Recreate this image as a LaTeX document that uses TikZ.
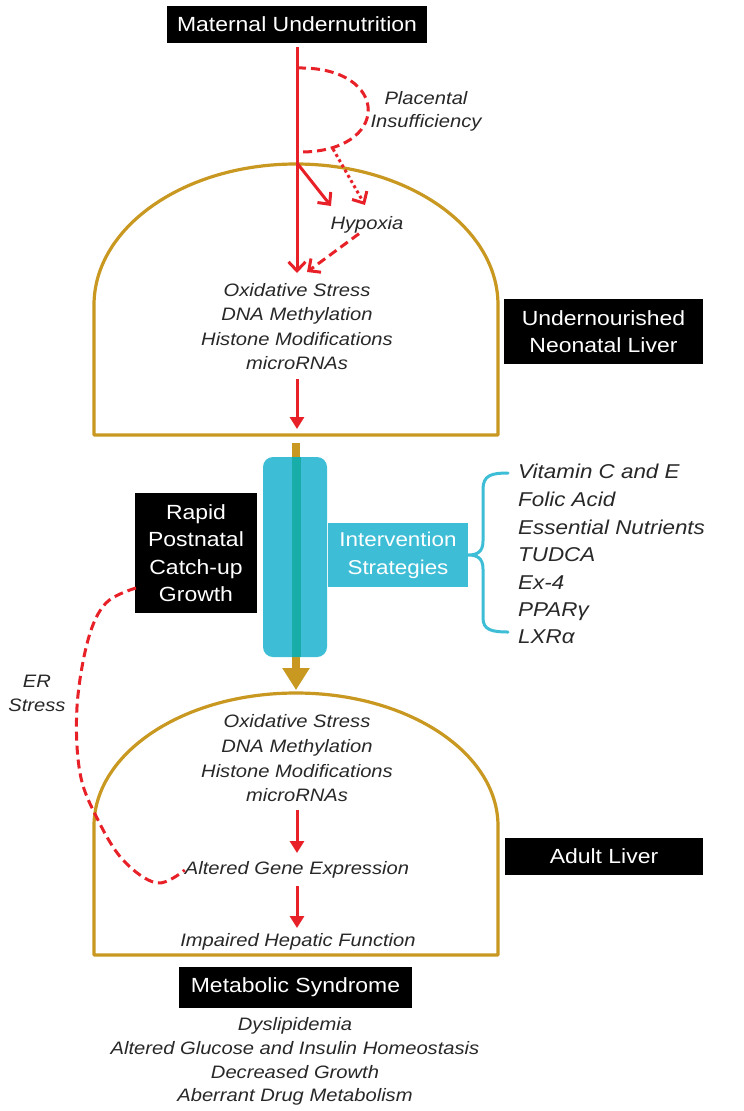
\documentclass[tikz,border=0pt]{standalone}
\usepackage{fontspec}
\setmainfont{Liberation Sans}[FakeStretch=1.12]
\usetikzlibrary{arrows.meta}
\definecolor{myred}{RGB}{232,32,40}
\definecolor{gold}{RGB}{201,152,32}
\definecolor{cyanbox}{RGB}{62,190,214}
\definecolor{tealstripe}{RGB}{24,173,168}
\definecolor{txtgray}{RGB}{40,40,40}
\tikzset{
  blackbox/.style={fill=black, text=white, inner sep=0pt, align=center,
    font=\fontsize{20.5}{27.5}\selectfont},
  ittxt/.style={text=txtgray, inner sep=0pt, align=center,
    font=\itshape\fontsize{18}{23.5}\selectfont},
  itline/.style={ittxt, text height=13pt, text depth=4pt},
  listtxt/.style={text=txtgray, inner sep=0pt, anchor=west,
    font=\itshape\fontsize{20}{27}\selectfont, text height=14.5pt, text depth=4.5pt},
  barbtip/.style={-{Straight Barb[length=9pt,width=17pt,line width=3pt]}},
  redbarb/.style={draw=myred, line width=3pt, barbtip},
  redtri/.style={draw=myred, line width=3pt, -{Triangle[length=12pt,width=14pt]}},
  reddash/.style={draw=myred, line width=3pt, dash pattern=on 9pt off 5pt},
  reddot/.style={draw=myred, line width=3pt, dash pattern=on 3pt off 3pt},
  dome/.style={draw=gold, line width=3.2pt, line join=round},
}
\begin{document}
\begin{tikzpicture}[x=1pt,y=-1pt]
\useasboundingbox[fill=white] (0,0) rectangle (744,1111);

% ---------- domes ----------
\draw[dome] (94,435) -- (94,305) .. controls (94,227.1) and (184.4,164) .. (296,164)
  .. controls (407.6,164) and (498,227.1) .. (498,305) -- (498,435) -- cycle;
\draw[dome] (94,955) -- (94,826) .. controls (94,752.5) and (184.4,693) .. (296,693)
  .. controls (407.6,693) and (498,752.5) .. (498,826) -- (498,955) -- cycle;

% ---------- black boxes ----------
\node[blackbox, minimum width=260pt, minimum height=37pt] (maternal) at (297,24.5) {Maternal Undernutrition};
\node[blackbox, minimum width=199pt, minimum height=65pt] (neonatal) at (603.5,331.5) {Undernourished\\Neonatal Liver};
\node[blackbox, minimum width=122pt, minimum height=120pt] (rapid) at (196,553) {Rapid\\Postnatal\\Catch-up\\Growth};
\node[blackbox, minimum width=198pt, minimum height=37pt] (adult) at (604,856.5) {Adult Liver};
\node[blackbox, minimum width=233pt, minimum height=41pt] (metab) at (295.5,987.5) {Metabolic Syndrome};

% ---------- top section ----------
\coordinate (m0) at (297,47);
\coordinate (m1) at (297,273);
\draw[redbarb] (m0) -- (m1);
\draw[reddash] (297,68) .. controls (392,66) and (392,154) .. (297,152);
\node[ittxt] (placental) at (426,111.5) {Placental\\Insufficiency};
\node[itline] (hypoxia) at (367,225) {Hypoxia};
\coordinate (d0) at (333,149);
\coordinate (d1) at (365,205);
\draw[reddot, barbtip] (d0) -- (d1);
\coordinate (s0) at (297,163);
\coordinate (s1) at (331,206);
\draw[redbarb] (s0) -- (s1);
\coordinate (h1) at (307,272);
\draw[reddash, barbtip] (hypoxia.south) ++(-8,0) -- (h1);

\node[itline] (ox1) at (297,292) {Oxidative Stress};
\node[itline] (dna1) at (297,316) {DNA Methylation};
\node[itline] (his1) at (297,341) {Histone Modifications};
\node[itline] (mir1) at (297,365) {microRNAs};
\coordinate (a1) at (297,379);
\coordinate (a2) at (297,429);
\draw[redtri] (a1) -- (a2);

% ---------- middle ----------
\coordinate (g0) at (296,443);
\coordinate (g1) at (296,690);
\draw[gold, line width=8.5pt, -{Triangle[length=22pt,width=26pt]}] (g0) -- (g1);
\fill[cyanbox, rounded corners=10pt] (263,457) rectangle (327,657);
\fill[tealstripe] (292,457) rectangle (300.5,657);
\node[fill=cyanbox, text=white, inner sep=0pt, align=center, minimum width=140pt, minimum height=64pt,
  font=\fontsize{20}{28}\selectfont] (interv) at (398,555) {Intervention\\Strategies};
\draw[cyanbox, line width=3pt, line join=round, line cap=round]
  (508,473) .. controls (492,473) and (483,475) .. (483,489) -- (483,541)
  .. controls (483,552) and (477,555) .. (interv.east)
  .. controls (477,555) and (483,558) .. (483,569) -- (483,618)
  .. controls (483,630) and (492,632) .. (508,632);
\node[listtxt] (l1) at (518,473) {Vitamin C and E};
\node[listtxt] (l2) at (518,501) {Folic Acid};
\node[listtxt] (l3) at (518,529) {Essential Nutrients};
\node[listtxt] (l4) at (518,556) {TUDCA};
\node[listtxt] (l5) at (518,584) {Ex-4};
\node[listtxt] (l6) at (518,611) {PPARγ};
\node[listtxt] (l7) at (518,638) {LXRα};

% ---------- lower section ----------
\node[itline] (ox2) at (297,723) {Oxidative Stress};
\node[itline] (dna2) at (297,748) {DNA Methylation};
\node[itline] (his2) at (297,773) {Histone Modifications};
\node[itline] (mir2) at (297,797) {microRNAs};
\coordinate (b1) at (297,810);
\coordinate (b2) at (297,853);
\draw[redtri] (b1) -- (b2);
\node[itline] (alt) at (297,870) {Altered Gene Expression};
\coordinate (c1) at (297,886);
\coordinate (c2) at (297,928);
\draw[redtri] (c1) -- (c2);
\node[itline] (imp) at (298,942) {Impaired Hepatic Function};

\node[ittxt] (er) at (37,693.5) {ER\\Stress};
\coordinate (er0) at (136,588);
\draw[reddash] plot[smooth, tension=0.6] coordinates {(er0) (106,603) (88,640) (77,707) (80,773) (97,818) (123,860) (157,883) (alt.west)};

% ---------- bottom list ----------
\node[itline] (o1) at (295,1026) {Dyslipidemia};
\node[itline] (o2) at (295,1050) {Altered Glucose and Insulin Homeostasis};
\node[itline] (o3) at (295,1074) {Decreased Growth};
\node[itline] (o4) at (295,1097) {Aberrant Drug Metabolism};
\end{tikzpicture}
\end{document}
